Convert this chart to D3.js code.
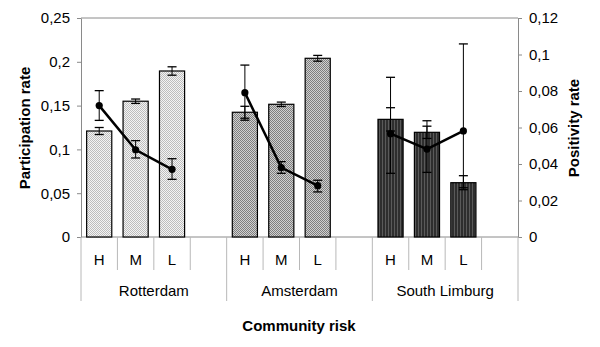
<!DOCTYPE html>
<html>
<head>
<meta charset="utf-8">
<script src="https://cdn.jsdelivr.net/npm/d3@7"></script>
<style>
  html, body { margin: 0; padding: 0; background: #fff; }
  svg text { font-family: "Liberation Sans", Arial, sans-serif; fill: #000; }
</style>
</head>
<body>
<svg id="chart" width="600" height="347"></svg>
<script>
// cities and community risk levels
const groups = ["Rotterdam", "Amsterdam", "South Limburg"];
const risks = ["H", "M", "L"];

// participation rate (bars, left axis) with +/- error
const participation = [
  [0.121, 0.155, 0.1895],
  [0.1424, 0.1515, 0.204],
  [0.1343, 0.1195, 0.062]
];
const participationErr = [
  [0.004, 0.0025, 0.0048],
  [0.0068, 0.0025, 0.0033],
  [0.0133, 0.007, 0.008]
];

// positivity rate (line, right axis) with lower/upper limits
const positivity = [
  [0.072, 0.0478, 0.0371],
  [0.0791, 0.038, 0.0281],
  [0.0566, 0.0482, 0.0581]
];
const positivityLo = [
  [0.0639, 0.0433, 0.0316],
  [0.064, 0.0349, 0.0247],
  [0.0349, 0.0354, 0.027]
];
const positivityHi = [
  [0.0802, 0.0528, 0.0429],
  [0.0942, 0.0413, 0.0311],
  [0.0875, 0.0637, 0.1058]
];

const leftTicks = [0, 0.05, 0.1, 0.15, 0.2, 0.25];
const rightTicks = [0, 0.02, 0.04, 0.06, 0.08, 0.1, 0.12];

const fmt = d => String(d).replace(".", ",");

const svg = d3.select("#chart");
const plotL = 81, plotR = 518, plotT = 18, plotB = 237;

// 4 slots per city, last one empty
const slots = [];
groups.forEach(g => { risks.forEach(r => slots.push(g + "|" + r)); slots.push(g + "|_"); });

const x = d3.scaleBand().domain(slots).range([plotL, plotR]).padding(0);
const yL = d3.scaleLinear().domain([0, 0.25]).range([plotB, plotT]);
const yR = d3.scaleLinear().domain([0, 0.12]).range([plotB, plotT]);
const barW = x.bandwidth() * 0.69;
const cx = (g, r) => x(g + "|" + r) + x.bandwidth() / 2;

// fill patterns
const defs = svg.append("defs");
function checker(id, a, b) {
  const p = defs.append("pattern").attr("id", id)
    .attr("width", 2).attr("height", 2).attr("patternUnits", "userSpaceOnUse");
  p.append("rect").attr("width", 2).attr("height", 2).attr("fill", a);
  p.append("rect").attr("width", 1).attr("height", 1).attr("fill", b);
  p.append("rect").attr("x", 1).attr("y", 1).attr("width", 1).attr("height", 1).attr("fill", b);
}
checker("patR", "#f4f4f4", "#bdbdbd");
checker("patA", "#d0d0d0", "#7e7e7e");
const pS = defs.append("pattern").attr("id", "patS")
  .attr("width", 3).attr("height", 3).attr("patternUnits", "userSpaceOnUse");
pS.append("rect").attr("width", 3).attr("height", 3).attr("fill", "#2e2e2e");
pS.append("rect").attr("x", 1).attr("width", 1).attr("height", 3).attr("fill", "#5a5a5a");
const fills = ["url(#patR)", "url(#patA)", "url(#patS)"];

// frame
svg.append("line").attr("x1", plotL).attr("x2", plotR).attr("y1", plotT).attr("y2", plotT)
  .attr("stroke", "#8a8a8a");

// left axis
const gL = svg.append("g").attr("transform", `translate(${plotL},0)`)
  .call(d3.axisLeft(yL).tickValues(leftTicks).tickFormat(fmt).tickSize(4).tickSizeOuter(0).tickPadding(7));
gL.select(".domain").attr("stroke", "#8a8a8a");
gL.selectAll(".tick line").attr("stroke", "#8a8a8a");
gL.selectAll("text").style("font-size", "15px").attr("fill", "#000");

// right axis
const gR = svg.append("g").attr("transform", `translate(${plotR},0)`)
  .call(d3.axisRight(yR).tickValues(rightTicks).tickFormat(fmt).tickSize(4).tickSizeOuter(0).tickPadding(7));
gR.select(".domain").attr("stroke", "#8a8a8a");
gR.selectAll(".tick line").attr("stroke", "#8a8a8a");
gR.selectAll("text").style("font-size", "15px").attr("fill", "#000");

// category axis: baseline, short and long separators
svg.append("line").attr("x1", plotL).attr("x2", plotR).attr("y1", plotB).attr("y2", plotB)
  .attr("stroke", "#8a8a8a");
slots.forEach((s, i) => {
  const xs = x(s);
  svg.append("line").attr("x1", xs).attr("x2", xs).attr("y1", plotB)
    .attr("y2", i % 4 === 0 ? 301 : 270).attr("stroke", "#b8b8b8");
});
svg.append("line").attr("x1", plotR).attr("x2", plotR).attr("y1", plotB).attr("y2", 301)
  .attr("stroke", "#b8b8b8");

groups.forEach((g, gi) => {
  risks.forEach(r => {
    svg.append("text").attr("x", cx(g, r)).attr("y", 259.5).attr("dy", "0.35em")
      .attr("text-anchor", "middle").style("font-size", "15px").text(r);
  });
  const gx = x(g + "|H") + 2 * x.step();
  svg.append("text").attr("x", gx).attr("y", 291).attr("dy", "0.35em")
    .attr("text-anchor", "middle").style("font-size", "15px").text(g);
});

// bars
groups.forEach((g, gi) => {
  risks.forEach((r, ri) => {
    const v = participation[gi][ri];
    svg.append("rect")
      .attr("x", cx(g, r) - barW / 2).attr("y", yL(v))
      .attr("width", barW).attr("height", plotB - yL(v))
      .attr("fill", fills[gi]).attr("stroke", "#000").attr("stroke-width", 1.2);
  });
});

function errBar(xc, y1, y2) {
  svg.append("line").attr("x1", xc).attr("x2", xc).attr("y1", y1).attr("y2", y2)
    .attr("stroke", "#000").attr("stroke-width", 1);
  [y1, y2].forEach(yy => svg.append("line").attr("x1", xc - 4.5).attr("x2", xc + 4.5)
    .attr("y1", yy).attr("y2", yy).attr("stroke", "#000").attr("stroke-width", 1.3));
}

// participation errors
groups.forEach((g, gi) => {
  risks.forEach((r, ri) => {
    const v = participation[gi][ri], e = participationErr[gi][ri];
    errBar(cx(g, r), yL(v + e), yL(v - e));
  });
});

// positivity line per city
const line = d3.line().x(d => d[0]).y(d => d[1]);
groups.forEach((g, gi) => {
  const pts = risks.map((r, ri) => [cx(g, r), yR(positivity[gi][ri])]);
  svg.append("path").attr("d", line(pts)).attr("fill", "none")
    .attr("stroke", "#000").attr("stroke-width", 2.5);
  risks.forEach((r, ri) => errBar(cx(g, r), yR(positivityHi[gi][ri]), yR(positivityLo[gi][ri])));
  svg.selectAll(null).data(pts).enter().append("circle")
    .attr("cx", d => d[0]).attr("cy", d => d[1]).attr("r", 3.6).attr("fill", "#000");
});

// axis titles
svg.append("text").attr("transform", "translate(25,128) rotate(-90)")
  .attr("dy", "0.35em").attr("text-anchor", "middle")
  .style("font-size", "15px").style("font-weight", "bold").text("Participation rate");
svg.append("text").attr("transform", "translate(574,128) rotate(-90)")
  .attr("dy", "0.35em").attr("text-anchor", "middle")
  .style("font-size", "15px").style("font-weight", "bold").text("Positivity rate");
svg.append("text").attr("x", 299).attr("y", 326).attr("dy", "0.35em")
  .attr("text-anchor", "middle")
  .style("font-size", "15px").style("font-weight", "bold").text("Community risk");
</script>
</body>
</html>
